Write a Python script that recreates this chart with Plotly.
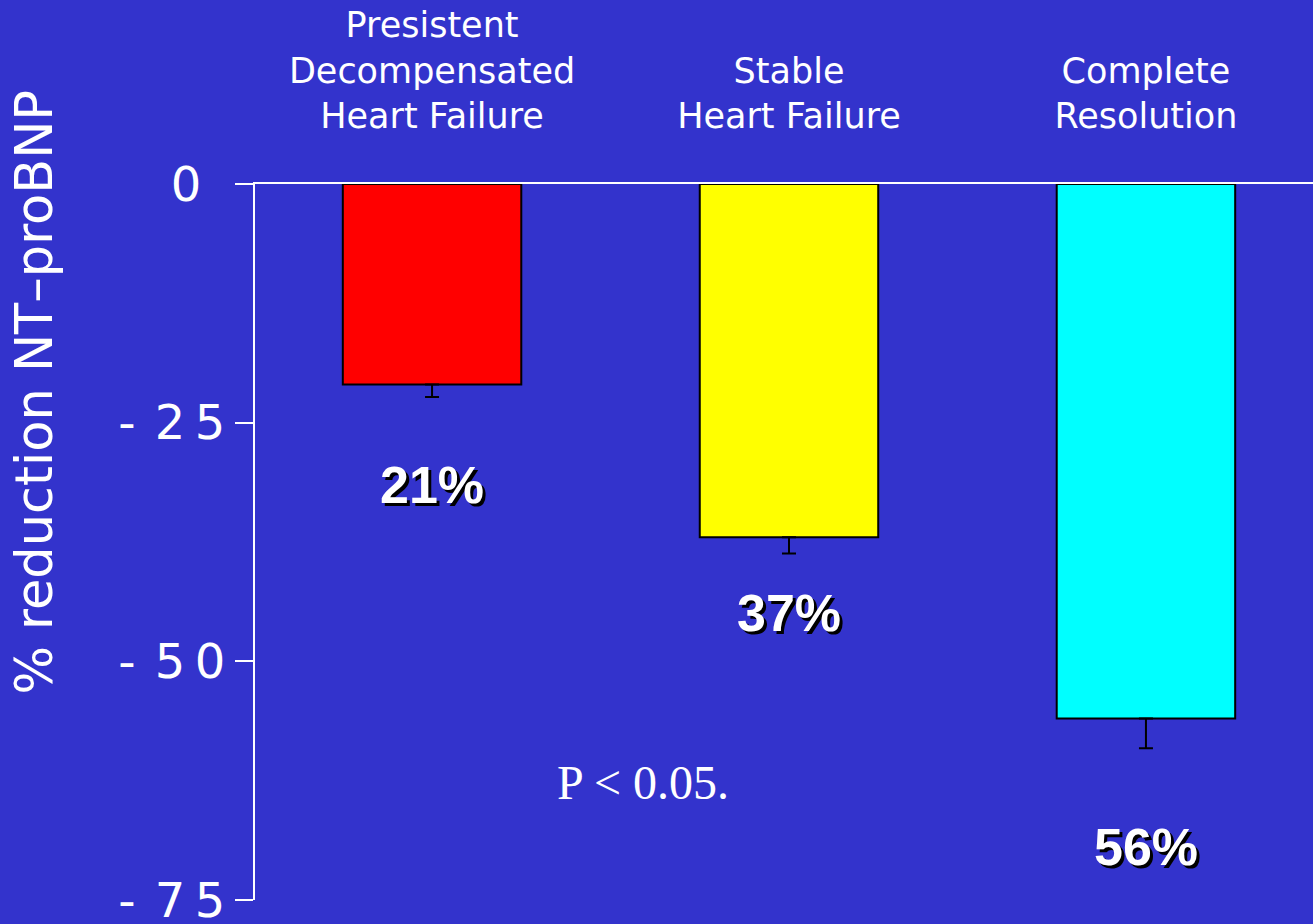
import plotly.graph_objects as go

# Groups and their mean percentage change in NT-proBNP
categories = ["Presistent<br>Decompensated<br>Heart Failure",
              "Stable<br>Heart Failure",
              "Complete<br>Resolution"]
reduction_pct = [21, 37, 56]
values = [-v for v in reduction_pct]
error_minus = [1.3, 1.7, 3.1]
value_labels = [f"{v}%" for v in reduction_pct]
bar_colors = ["#FF0000", "#FFFF00", "#00FFFF"]

y_tickvals = [0, -25, -50, -75]
y_ticktext = ["0\u2002", "-\u2009\u20092\u20095", "-\u2009\u20095\u20090", "-\u2009\u20097\u20095"]

BG = "#3333CC"

fig = go.Figure()
fig.add_trace(go.Bar(
    x=[0, 1, 2],
    y=values,
    width=0.5,
    marker=dict(color=bar_colors, line=dict(color="black", width=2)),
    error_y=dict(type="data", symmetric=False,
                 array=[0] * len(values), arrayminus=error_minus,
                 color="black", thickness=2, width=7),
    hoverinfo="skip",
))

# value labels placed beneath each bar
label_y = [-31.5, -44.9, -69.5]
for i, (txt, ly) in enumerate(zip(value_labels, label_y)):
    fig.add_annotation(
        x=i, y=ly, text=f"<b>{txt}</b>", showarrow=False,
        xanchor="center", yanchor="middle",
        font=dict(family="Liberation Sans", size=52, color="white",
                  shadow="3px 3px 0px black"),
    )

fig.add_annotation(
    x=0.59, y=-62.7, text="P < 0.05.", showarrow=False,
    xanchor="center", yanchor="middle",
    font=dict(family="Liberation Serif", size=48, color="white"),
)

# vertical axis title
fig.add_annotation(
    xref="paper", yref="paper", x=-0.208, y=0.71,
    text="% reduction NT\u2013proBNP", textangle=-90, showarrow=False,
    xanchor="center", yanchor="middle",
    font=dict(family="DejaVu Sans", size=51, color="white"),
)

fig.update_layout(
    width=1313, height=924,
    paper_bgcolor=BG, plot_bgcolor=BG,
    margin=dict(l=255, r=0, t=184, b=24),
    showlegend=False,
    xaxis=dict(
        side="top", range=[-0.496, 2.468],
        tickvals=[0, 1, 2], ticktext=categories,
        ticks="", showgrid=False, zeroline=False,
        showline=True, linecolor="white", linewidth=2,
        ticklabelstandoff=40, automargin=False,
        tickfont=dict(family="DejaVu Sans", size=35, color="white"),
    ),
    yaxis=dict(
        range=[-75, 0], tickvals=y_tickvals, ticktext=y_ticktext,
        ticks="outside", ticklen=18, tickwidth=2, tickcolor="white",
        showline=True, linecolor="white", linewidth=2,
        showgrid=False, zeroline=False, ticklabeloverflow="allow",
        automargin=False,
        tickfont=dict(family="DejaVu Sans", size=48, color="white"),
    ),
)

fig.write_html("out.html")
